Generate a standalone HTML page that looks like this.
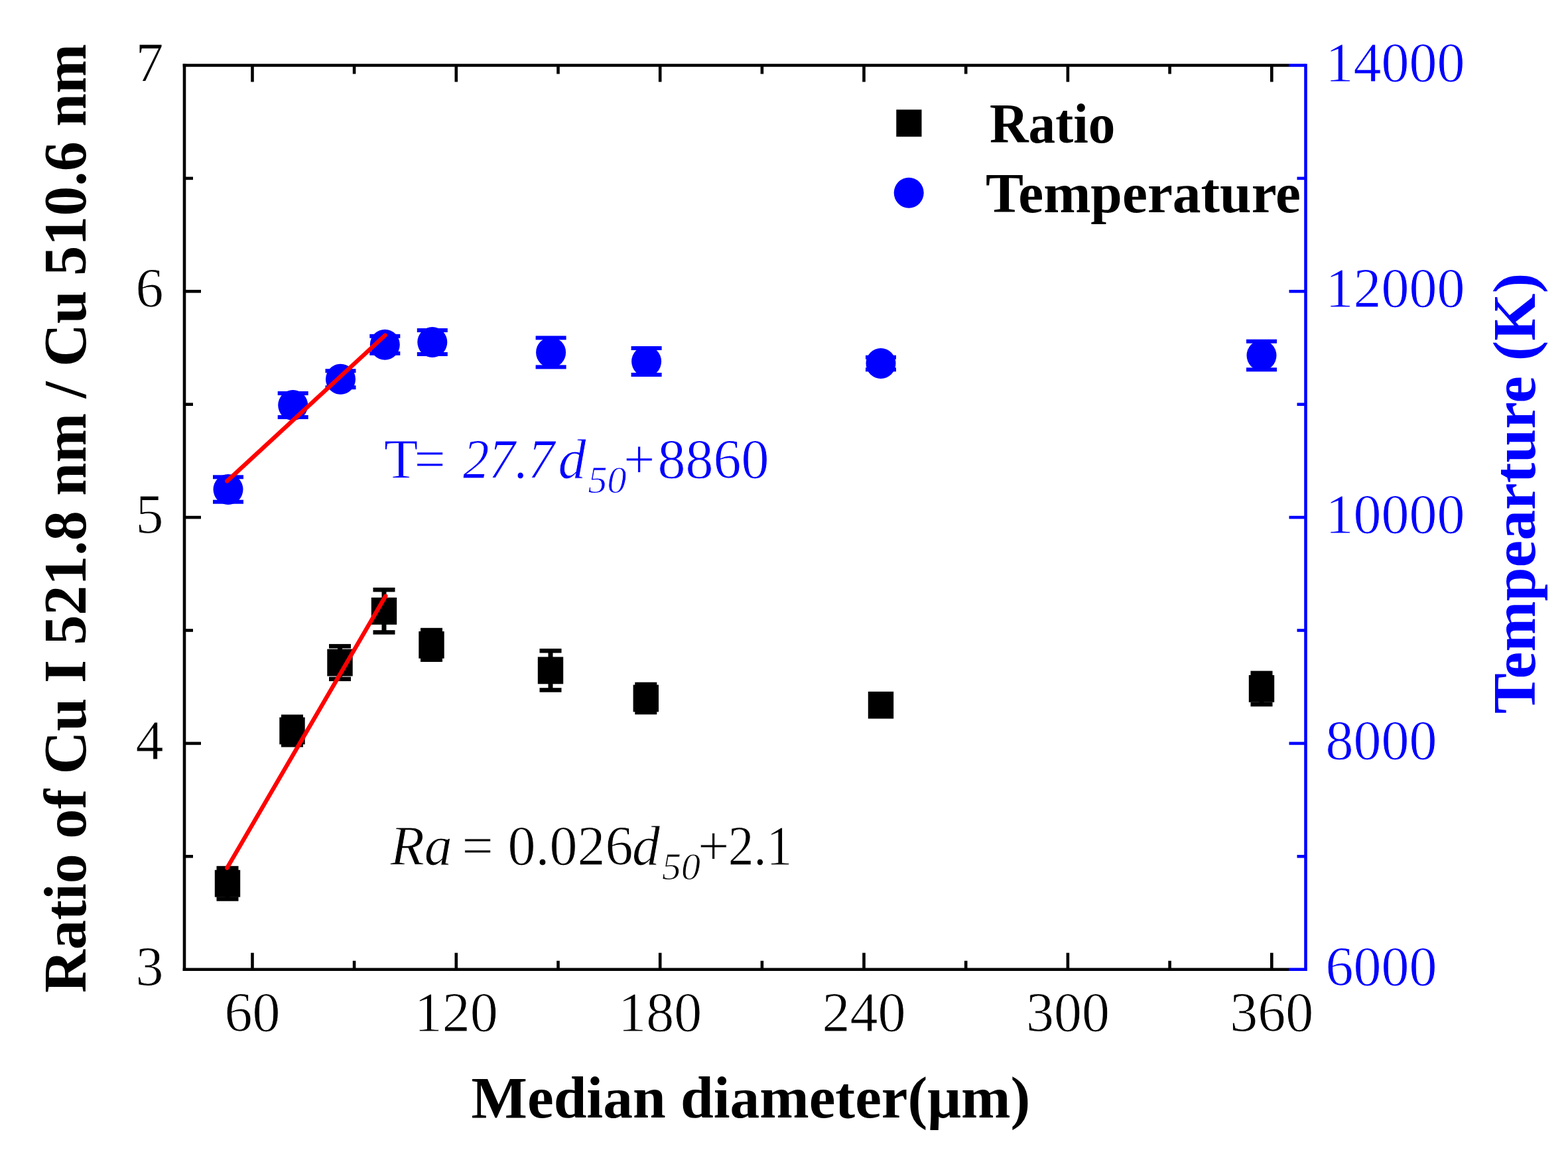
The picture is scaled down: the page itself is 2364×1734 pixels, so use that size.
<!DOCTYPE html><html><head><meta charset="utf-8"><style>html,body{margin:0;padding:0;background:#fff;}svg{display:block;}text{font-family:"Liberation Serif","Times New Roman",serif;}text.r{stroke:#fff;stroke-width:0.9px;paint-order:normal;}</style></head><body>
<svg width="2364" height="1734" viewBox="0 0 2364 1734">
<rect width="2364" height="1734" fill="#fff"/>
<g stroke="#000" stroke-width="4.6" fill="none" stroke-linecap="butt">
<line x1="278.0" y1="96.2" x2="278.0" y2="1464.0"/>
<line x1="275.7" y1="98.5" x2="1943" y2="98.5"/>
<line x1="275.7" y1="1461.7" x2="1943" y2="1461.7"/>
<line x1="380.5" y1="1461.7" x2="380.5" y2="1436.7"/>
<line x1="380.5" y1="98.5" x2="380.5" y2="123.5"/>
<line x1="687.8" y1="1461.7" x2="687.8" y2="1436.7"/>
<line x1="687.8" y1="98.5" x2="687.8" y2="123.5"/>
<line x1="995.2" y1="1461.7" x2="995.2" y2="1436.7"/>
<line x1="995.2" y1="98.5" x2="995.2" y2="123.5"/>
<line x1="1302.5" y1="1461.7" x2="1302.5" y2="1436.7"/>
<line x1="1302.5" y1="98.5" x2="1302.5" y2="123.5"/>
<line x1="1609.9" y1="1461.7" x2="1609.9" y2="1436.7"/>
<line x1="1609.9" y1="98.5" x2="1609.9" y2="123.5"/>
<line x1="1917.3" y1="1461.7" x2="1917.3" y2="1436.7"/>
<line x1="1917.3" y1="98.5" x2="1917.3" y2="123.5"/>
<line x1="534.1" y1="1461.7" x2="534.1" y2="1448.7"/>
<line x1="534.1" y1="98.5" x2="534.1" y2="111.5"/>
<line x1="841.5" y1="1461.7" x2="841.5" y2="1448.7"/>
<line x1="841.5" y1="98.5" x2="841.5" y2="111.5"/>
<line x1="1148.9" y1="1461.7" x2="1148.9" y2="1448.7"/>
<line x1="1148.9" y1="98.5" x2="1148.9" y2="111.5"/>
<line x1="1456.2" y1="1461.7" x2="1456.2" y2="1448.7"/>
<line x1="1456.2" y1="98.5" x2="1456.2" y2="111.5"/>
<line x1="1763.6" y1="1461.7" x2="1763.6" y2="1448.7"/>
<line x1="1763.6" y1="98.5" x2="1763.6" y2="111.5"/>
<line x1="278.0" y1="1120.9" x2="303.0" y2="1120.9"/>
<line x1="278.0" y1="780.1" x2="303.0" y2="780.1"/>
<line x1="278.0" y1="439.3" x2="303.0" y2="439.3"/>
<line x1="278.0" y1="1291.3" x2="291.0" y2="1291.3"/>
<line x1="278.0" y1="950.5" x2="291.0" y2="950.5"/>
<line x1="278.0" y1="609.7" x2="291.0" y2="609.7"/>
<line x1="278.0" y1="268.9" x2="291.0" y2="268.9"/>
</g>
<g stroke="#0000ff" stroke-width="4.6" fill="none">
<line x1="1968.5" y1="96.2" x2="1968.5" y2="1464.0"/>
<line x1="1943" y1="98.5" x2="1968.5" y2="98.5"/>
<line x1="1943" y1="1461.7" x2="1968.5" y2="1461.7"/>
<line x1="1968.5" y1="1120.9" x2="1943.5" y2="1120.9"/>
<line x1="1968.5" y1="780.1" x2="1943.5" y2="780.1"/>
<line x1="1968.5" y1="439.3" x2="1943.5" y2="439.3"/>
<line x1="1968.5" y1="1291.3" x2="1955.5" y2="1291.3"/>
<line x1="1968.5" y1="950.5" x2="1955.5" y2="950.5"/>
<line x1="1968.5" y1="609.7" x2="1955.5" y2="609.7"/>
<line x1="1968.5" y1="268.9" x2="1955.5" y2="268.9"/>
</g>
<text class="r" x="246.5" y="1485.7" font-size="84" text-anchor="end">3</text>
<text class="r" x="246.5" y="1144.9" font-size="84" text-anchor="end">4</text>
<text class="r" x="246.5" y="804.1" font-size="84" text-anchor="end">5</text>
<text class="r" x="246.5" y="463.3" font-size="84" text-anchor="end">6</text>
<text class="r" x="246.5" y="122.5" font-size="84" text-anchor="end">7</text>
<text class="r" x="1998.5" y="122.5" font-size="84" fill="#0000ff">14000</text>
<text class="r" x="1998.5" y="463.3" font-size="84" fill="#0000ff">12000</text>
<text class="r" x="1998.5" y="804.1" font-size="84" fill="#0000ff">10000</text>
<text class="r" x="1998.5" y="1144.9" font-size="84" fill="#0000ff">8000</text>
<text class="r" x="1998.5" y="1485.7" font-size="84" fill="#0000ff">6000</text>
<text class="r" x="380.5" y="1555" font-size="84" text-anchor="middle">60</text>
<text class="r" x="687.8" y="1555" font-size="84" text-anchor="middle">120</text>
<text class="r" x="995.2" y="1555" font-size="84" text-anchor="middle">180</text>
<text class="r" x="1302.5" y="1555" font-size="84" text-anchor="middle">240</text>
<text class="r" x="1609.9" y="1555" font-size="84" text-anchor="middle">300</text>
<text class="r" x="1917.3" y="1555" font-size="84" text-anchor="middle">360</text>
<text x="710.6" y="1685" font-size="89" font-weight="bold" textLength="842.6" lengthAdjust="spacingAndGlyphs">Median diameter(μm)</text>
<text transform="translate(129.4,1497) rotate(-90)" x="0" y="0" font-size="90" font-weight="bold" textLength="1431" lengthAdjust="spacingAndGlyphs">Ratio of Cu I 521.8 nm / Cu 510.6 nm</text>
<text transform="translate(2314,1076.2) rotate(-90)" x="0" y="0" font-size="92" font-weight="bold" fill="#0000ff" textLength="664.4" lengthAdjust="spacingAndGlyphs">Tempearture (K)</text>
<rect x="1351.3" y="165.3" width="38.2" height="40.8" fill="#000"/>
<ellipse cx="1370.2" cy="290.8" rx="22.5" ry="23" fill="#0000ff"/>
<text x="1491.9" y="215" font-size="84" font-weight="bold" textLength="189.5" lengthAdjust="spacingAndGlyphs">Ratio</text>
<text x="1486" y="320" font-size="85" font-weight="bold" textLength="475" lengthAdjust="spacingAndGlyphs">Temperature</text>
<text class="r" x="579" y="721" font-size="84" fill="#0000ff">T</text>
<text class="r" x="624.4" y="721" font-size="84" fill="#0000ff">=</text>
<text class="r" x="697.9" y="721" font-size="84" font-style="italic" fill="#0000ff" textLength="138" lengthAdjust="spacingAndGlyphs">27.7</text>
<text class="r" x="841.6" y="721" font-size="84" font-style="italic" fill="#0000ff">d</text>
<text class="r" x="886.4" y="743" font-size="58" font-style="italic" fill="#0000ff">50</text>
<text class="r" x="940" y="721" font-size="84" fill="#0000ff">+</text>
<text class="r" x="991.6" y="721" font-size="84" fill="#0000ff">8860</text>
<text class="r" x="588.5" y="1303.5" font-size="84" font-style="italic" fill="#000">Ra</text>
<text class="r" x="696.5" y="1303.5" font-size="84" fill="#000">=</text>
<text class="r" x="765.6" y="1303.5" font-size="84" fill="#000">0.026</text>
<text class="r" x="953" y="1303.5" font-size="84" font-style="italic" fill="#000">d</text>
<text class="r" x="998" y="1325.6" font-size="58" font-style="italic" fill="#000">50</text>
<text class="r" x="1052" y="1303.5" font-size="84" fill="#000">+</text>
<text class="r" x="1097.7" y="1303.5" font-size="84" fill="#000" textLength="96.7" lengthAdjust="spacingAndGlyphs">2.1</text>
<line x1="343" y1="1309.0" x2="343" y2="1355.4" stroke="#000" stroke-width="7"/><rect x="326.5" y="1305.8" width="33" height="6.5" fill="#000"/><rect x="326.5" y="1352.2" width="33" height="6.5" fill="#000"/>
<rect x="323.8" y="1311.8" width="38.4" height="40.8" fill="#000"/>
<line x1="440.5" y1="1080.8" x2="440.5" y2="1123.2" stroke="#000" stroke-width="7"/><rect x="424.0" y="1077.5" width="33" height="6.5" fill="#000"/><rect x="424.0" y="1120.0" width="33" height="6.5" fill="#000"/>
<rect x="421.3" y="1081.6" width="38.4" height="40.8" fill="#000"/>
<line x1="512.5" y1="974.4" x2="512.5" y2="1023.8000000000001" stroke="#000" stroke-width="7"/><rect x="496.0" y="971.1" width="33" height="6.5" fill="#000"/><rect x="496.0" y="1020.6" width="33" height="6.5" fill="#000"/>
<rect x="493.3" y="978.7" width="38.4" height="40.8" fill="#000"/>
<line x1="579" y1="889.3" x2="579" y2="953.5" stroke="#000" stroke-width="7"/><rect x="562.5" y="886.0" width="33" height="6.5" fill="#000"/><rect x="562.5" y="950.2" width="33" height="6.5" fill="#000"/>
<rect x="559.8" y="901.0" width="38.4" height="40.8" fill="#000"/>
<line x1="650.5" y1="950.0" x2="650.5" y2="994.8" stroke="#000" stroke-width="7"/><rect x="634.0" y="946.8" width="33" height="6.5" fill="#000"/><rect x="634.0" y="991.5" width="33" height="6.5" fill="#000"/>
<rect x="631.3" y="952.0" width="38.4" height="40.8" fill="#000"/>
<line x1="830" y1="981.3" x2="830" y2="1040.5" stroke="#000" stroke-width="7"/><rect x="813.5" y="978.0" width="33" height="6.5" fill="#000"/><rect x="813.5" y="1037.2" width="33" height="6.5" fill="#000"/>
<rect x="810.8" y="990.5" width="38.4" height="40.8" fill="#000"/>
<line x1="973.8" y1="1031.9" x2="973.8" y2="1074.1" stroke="#000" stroke-width="7"/><rect x="957.3" y="1028.7" width="33" height="6.5" fill="#000"/><rect x="957.3" y="1070.8" width="33" height="6.5" fill="#000"/>
<rect x="954.6" y="1032.6" width="38.4" height="40.8" fill="#000"/>
<line x1="1328" y1="1053.2" x2="1328" y2="1073.2" stroke="#000" stroke-width="7"/><rect x="1311.5" y="1050.0" width="33" height="6.5" fill="#000"/><rect x="1311.5" y="1070.0" width="33" height="6.5" fill="#000"/>
<rect x="1308.8" y="1042.8" width="38.4" height="40.8" fill="#000"/>
<line x1="1902" y1="1014.8000000000001" x2="1902" y2="1062.0" stroke="#000" stroke-width="7"/><rect x="1885.5" y="1011.6" width="33" height="6.5" fill="#000"/><rect x="1885.5" y="1058.8" width="33" height="6.5" fill="#000"/>
<rect x="1882.8" y="1018.0" width="38.4" height="40.8" fill="#000"/>
<line x1="344" y1="719.3" x2="344" y2="756.7" stroke="#0000ff" stroke-width="6"/><rect x="321.0" y="716.3" width="46" height="6" fill="#0000ff"/><rect x="321.0" y="753.7" width="46" height="6" fill="#0000ff"/>
<ellipse cx="344" cy="738" rx="22.5" ry="23" fill="#0000ff"/>
<line x1="441.7" y1="593" x2="441.7" y2="629" stroke="#0000ff" stroke-width="6"/><rect x="418.7" y="590.0" width="46" height="6" fill="#0000ff"/><rect x="418.7" y="626.0" width="46" height="6" fill="#0000ff"/>
<ellipse cx="441.7" cy="611" rx="22.5" ry="23" fill="#0000ff"/>
<line x1="513.5" y1="559.2" x2="513.5" y2="584.2" stroke="#0000ff" stroke-width="6"/><rect x="490.5" y="556.2" width="46" height="6" fill="#0000ff"/><rect x="490.5" y="581.2" width="46" height="6" fill="#0000ff"/>
<ellipse cx="513.5" cy="571.7" rx="22.5" ry="23" fill="#0000ff"/>
<line x1="580.3" y1="506.79999999999995" x2="580.3" y2="532.8" stroke="#0000ff" stroke-width="6"/><rect x="557.3" y="503.8" width="46" height="6" fill="#0000ff"/><rect x="557.3" y="529.8" width="46" height="6" fill="#0000ff"/>
<ellipse cx="580.3" cy="519.8" rx="22.5" ry="23" fill="#0000ff"/>
<line x1="651.8" y1="498" x2="651.8" y2="534" stroke="#0000ff" stroke-width="6"/><rect x="628.8" y="495.0" width="46" height="6" fill="#0000ff"/><rect x="628.8" y="531.0" width="46" height="6" fill="#0000ff"/>
<ellipse cx="651.8" cy="516" rx="22.5" ry="23" fill="#0000ff"/>
<line x1="830.6" y1="509.4" x2="830.6" y2="553.4" stroke="#0000ff" stroke-width="6"/><rect x="807.6" y="506.4" width="46" height="6" fill="#0000ff"/><rect x="807.6" y="550.4" width="46" height="6" fill="#0000ff"/>
<ellipse cx="830.6" cy="531.4" rx="22.5" ry="23" fill="#0000ff"/>
<line x1="974.6" y1="525" x2="974.6" y2="565" stroke="#0000ff" stroke-width="6"/><rect x="951.6" y="522.0" width="46" height="6" fill="#0000ff"/><rect x="951.6" y="562.0" width="46" height="6" fill="#0000ff"/>
<ellipse cx="974.6" cy="545" rx="22.5" ry="23" fill="#0000ff"/>
<line x1="1328" y1="538.7" x2="1328" y2="557.3" stroke="#0000ff" stroke-width="6"/><rect x="1305.0" y="535.7" width="46" height="6" fill="#0000ff"/><rect x="1305.0" y="554.3" width="46" height="6" fill="#0000ff"/>
<ellipse cx="1328" cy="548" rx="22.5" ry="23" fill="#0000ff"/>
<line x1="1902" y1="514.7" x2="1902" y2="557.3" stroke="#0000ff" stroke-width="6"/><rect x="1879.0" y="511.7" width="46" height="6" fill="#0000ff"/><rect x="1879.0" y="554.3" width="46" height="6" fill="#0000ff"/>
<ellipse cx="1902" cy="536" rx="22.5" ry="23" fill="#0000ff"/>
<line x1="342.4" y1="725.4" x2="580.7" y2="505.5" stroke="#f00" stroke-width="6.3" stroke-linecap="round"/>
<line x1="342.4" y1="1308.7" x2="581.4" y2="898.7" stroke="#f00" stroke-width="6.3" stroke-linecap="round"/>
</svg></body></html>
